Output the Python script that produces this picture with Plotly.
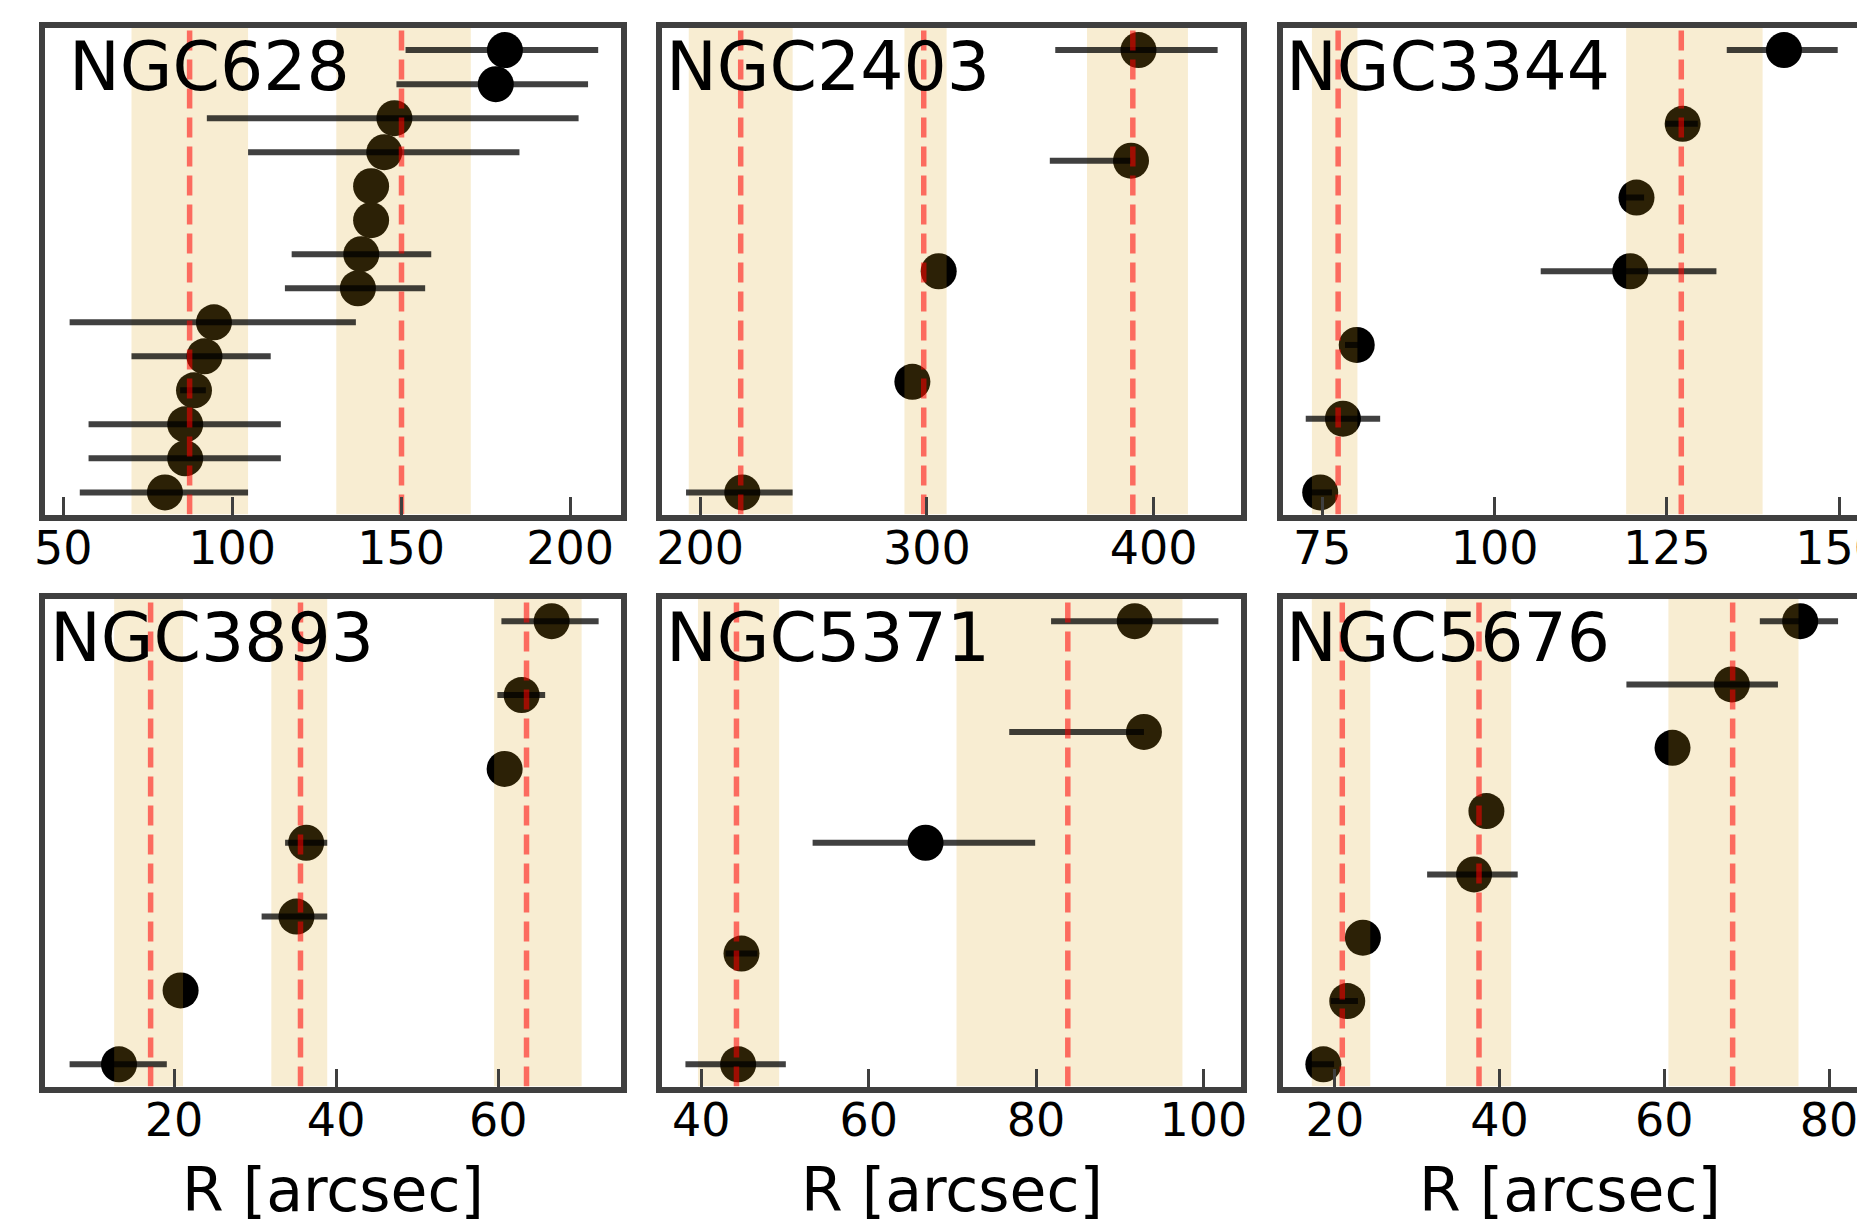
import plotly.graph_objects as go

W, H = 1857, 1220

# ---------------- data ----------------
names = ["NGC628", "NGC2403", "NGC3344", "NGC3893", "NGC5371", "NGC5676"]

ngc628_r = [80.1, 86.1, 86.1, 88.7, 91.8, 94.6, 137.2, 138.2, 141.1, 141.1, 145.0, 148.0, 178.0, 180.7]
ngc628_lo = [54.9, 57.5, 57.5, 84.6, 70.2, 51.9, 115.6, 117.6, 141.1, 141.1, 104.7, 92.5, 148.6, 151.3]
ngc628_hi = [104.7, 114.4, 114.4, 92.2, 111.4, 136.6, 157.1, 158.9, 141.1, 141.1, 185.0, 202.5, 205.3, 208.3]
ngc628_peak = [87.4, 150.1]
ngc628_band_lo = [70.2, 130.8]
ngc628_band_hi = [104.7, 170.6]

ngc2403_r = [218.6, 293.6, 305.2, 390.0, 393.3]
ngc2403_lo = [193.8, 293.6, 305.2, 354.2, 356.6]
ngc2403_hi = [240.8, 293.6, 305.2, 390.0, 428.2]
ngc2403_peak = [217.9, 298.6, 390.8]
ngc2403_band_lo = [195.0, 290.1, 370.6]
ngc2403_band_hi = [240.8, 308.7, 415.1]

ngc3344_r = [74.7, 78.0, 80.0, 119.7, 120.6, 127.3, 142.0]
ngc3344_lo = [72.4, 72.6, 78.3, 106.7, 119.0, 124.8, 133.7]
ngc3344_hi = [76.4, 83.4, 81.5, 132.2, 121.7, 129.5, 149.8]
ngc3344_peak = [77.3, 127.1]
ngc3344_band_lo = [73.5, 119.1]
ngc3344_band_hi = [80.1, 138.9]

ngc3893_r = [13.2, 20.8, 35.1, 36.3, 60.8, 62.9, 66.6]
ngc3893_lo = [7.1, 20.8, 30.8, 33.7, 60.8, 59.9, 60.4]
ngc3893_hi = [19.1, 20.8, 38.9, 38.9, 60.8, 65.8, 72.4]
ngc3893_peak = [17.1, 35.6, 63.5]
ngc3893_band_lo = [12.6, 32.0, 59.5]
ngc3893_band_hi = [21.1, 38.9, 70.3]

ngc5371_r = [44.4, 44.8, 66.8, 92.9, 91.8]
ngc5371_lo = [38.1, 42.9, 53.3, 76.8, 81.8]
ngc5371_hi = [50.1, 46.7, 79.9, 92.9, 101.8]
ngc5371_peak = [44.2, 83.8]
ngc5371_band_lo = [39.6, 70.5]
ngc5371_band_hi = [49.3, 97.5]

ngc5676_r = [18.6, 21.5, 23.4, 36.9, 38.4, 61.0, 68.2, 76.5]
ngc5676_lo = [16.7, 19.5, 23.4, 31.2, 38.4, 61.0, 55.4, 71.6]
ngc5676_hi = [19.9, 22.8, 23.4, 42.2, 38.4, 61.0, 73.8, 81.1]
ngc5676_peak = [20.9, 37.5, 68.3]
ngc5676_band_lo = [17.2, 33.5, 60.5]
ngc5676_band_hi = [24.3, 41.4, 76.3]

tickvals = [
    [50, 100, 150, 200],
    [200, 300, 400],
    [75, 100, 125, 150],
    [20, 40, 60],
    [40, 60, 80, 100],
    [20, 40, 60, 80],
]
x_label = "R [arcsec]"

panels = [
    (ngc628_r, ngc628_lo, ngc628_hi, ngc628_peak, ngc628_band_lo, ngc628_band_hi),
    (ngc2403_r, ngc2403_lo, ngc2403_hi, ngc2403_peak, ngc2403_band_lo, ngc2403_band_hi),
    (ngc3344_r, ngc3344_lo, ngc3344_hi, ngc3344_peak, ngc3344_band_lo, ngc3344_band_hi),
    (ngc3893_r, ngc3893_lo, ngc3893_hi, ngc3893_peak, ngc3893_band_lo, ngc3893_band_hi),
    (ngc5371_r, ngc5371_lo, ngc5371_hi, ngc5371_peak, ngc5371_band_lo, ngc5371_band_hi),
    (ngc5676_r, ngc5676_lo, ngc5676_hi, ngc5676_peak, ngc5676_band_lo, ngc5676_band_hi),
]

# ---------------- layout geometry (pixels) ----------------
xranges = [[44.7, 214.9], [183.2, 438.5], [69.3, 152.6],
           [4.1, 75.1], [35.3, 104.5], [13.7, 83.4]]
col_px = [(45.3, 620.5), (662.0, 1241.0), (1283.0, 1857.0)]
row_px = [(28.0, 514.5), (599.0, 1086.5)]
title_left_px = [67, 664, 1284, 48, 664, 1284]
title_dy = 38.5  # cap-centre below inner top edge

SPINE = "#3f3f3f"
FONT = "DejaVu Sans"

fig = go.Figure()
layout = dict(
    width=W, height=H, margin=dict(l=0, r=0, t=0, b=0, pad=0, autoexpand=False),
    paper_bgcolor="white", plot_bgcolor="white", showlegend=False,
    font=dict(family=FONT, color="black"),
)
annotations = []

for k, (r, lo, hi, peak, blo, bhi) in enumerate(panels):
    row, col = divmod(k, 3)
    n = len(r)
    y = list(range(n))
    y0, y1 = -0.05 * (n - 1), 1.05 * (n - 1)
    sfx = "" if k == 0 else str(k + 1)
    xa, ya = "x" + sfx, "y" + sfx

    # markers
    fig.add_trace(go.Scatter(x=r, y=y, mode="markers", xaxis=xa, yaxis=ya,
                             marker=dict(color="black", size=36, line=dict(width=0)),
                             hoverinfo="skip"))
    # shaded bands
    for a, b in zip(blo, bhi):
        fig.add_trace(go.Scatter(x=[a, b, b, a, a], y=[y0, y0, y1, y1, y0], mode="lines",
                                 fill="toself", fillcolor="rgba(218,165,32,0.2)",
                                 line=dict(width=0), xaxis=xa, yaxis=ya, hoverinfo="skip"))
    # error bars
    ex, ey = [], []
    for yi, a, b in zip(y, lo, hi):
        if b > a:
            ex += [a, b, None]
            ey += [yi, yi, None]
    if ex:
        fig.add_trace(go.Scatter(x=ex, y=ey, mode="lines", xaxis=xa, yaxis=ya,
                                 line=dict(color="rgba(0,0,0,0.75)", width=6),
                                 hoverinfo="skip"))
    # peak lines
    for p in peak:
        fig.add_trace(go.Scatter(x=[p, p], y=[y0, y1], mode="lines", xaxis=xa, yaxis=ya,
                                 line=dict(color="rgba(255,0,0,0.55)", width=5.5,
                                           dash="20px,9px"),
                                 hoverinfo="skip"))

    cx0, cx1 = col_px[col]
    ry0, ry1 = row_px[row]
    last_col = (col == 2)
    layout["xaxis" + sfx] = dict(
        domain=[cx0 / W, cx1 / W], range=xranges[k], anchor=ya, automargin=False,
        showgrid=False, zeroline=False, showline=True, linecolor=SPINE, linewidth=6,
        mirror=True, ticks="inside", ticklen=18, tickwidth=3, tickcolor=SPINE,
        tickvals=tickvals[k], ticktext=[str(v) for v in tickvals[k]],
        tickfont=dict(family=FONT, size=46, color="black"),
        ticklabeloverflow="allow", ticklabelstandoff=-12,
    )
    layout["yaxis" + sfx] = dict(
        domain=[1 - ry1 / H, 1 - ry0 / H], range=[y0, y1], anchor=xa, automargin=False,
        showgrid=False, zeroline=False, showline=True, linecolor=SPINE, linewidth=6,
        mirror=(not last_col), ticks="", showticklabels=False,
    )
    annotations.append(dict(
        text=names[k], xref="paper", yref="paper",
        x=title_left_px[k] / W, y=1 - (ry0 + title_dy) / H,
        xanchor="left", yanchor="middle", showarrow=False,
        font=dict(family=FONT, size=68, color="black"),
    ))
    if row == 1:
        annotations.append(dict(
            text=x_label, xref="paper", yref="paper",
            x=(cx0 + min(cx1, cx0 + 582)) / 2 / W, y=1 - 1190 / H,
            xanchor="center", yanchor="middle", showarrow=False,
            font=dict(family=FONT, size=60, color="black"),
        ))

layout["annotations"] = annotations
fig.update_layout(**layout)
fig.write_html(
    "out.html",
    config={"displayModeBar": False, "staticPlot": True},
    post_script="document.body.style.margin='0';document.body.style.overflow='hidden';",
)
